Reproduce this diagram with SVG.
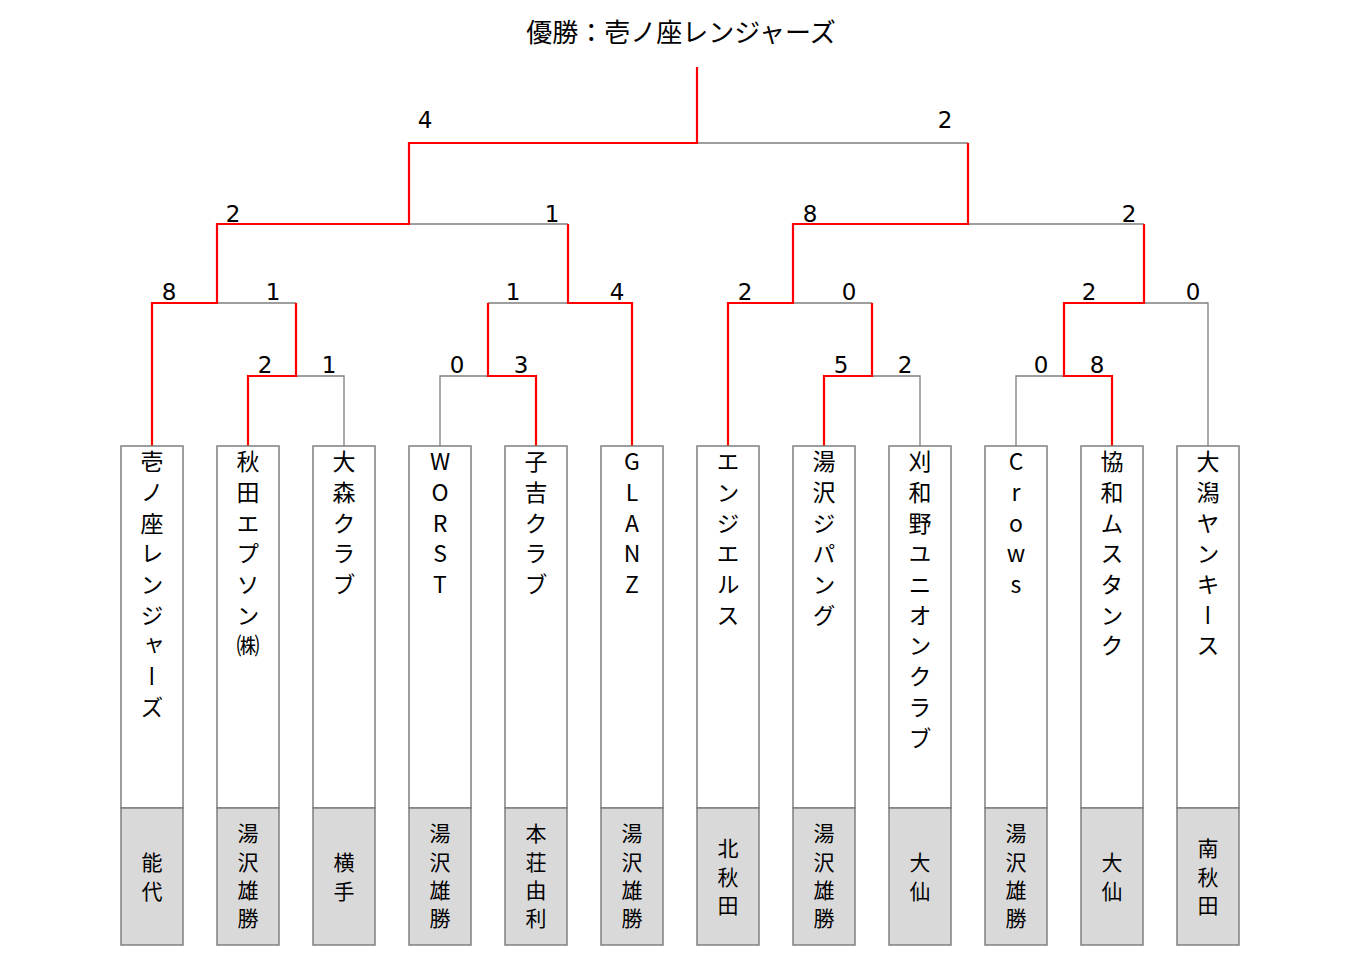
<svg xmlns="http://www.w3.org/2000/svg" width="1366" height="965" viewBox="0 0 1366 965">
<style>
.bg{fill:#ffffff}
.box{fill:#ffffff;stroke:#7f7f7f;stroke-width:1.5}
.pref{fill:#d9d9d9;stroke:#7f7f7f;stroke-width:1.5}
.g{fill:none;stroke:#7f7f7f;stroke-width:1.3}
.r{fill:none;stroke:#ff0000;stroke-width:2.2}
.title{font-family:"Noto Sans CJK JP","Noto Sans CJK SC",sans-serif;font-size:26px;fill:#000;text-anchor:middle}
.sc{font-family:"DejaVu Sans","Noto Sans",sans-serif;font-size:23px;fill:#000;text-anchor:middle}
.nm{font-family:"Noto Sans CJK JP","Noto Sans CJK SC",sans-serif;font-size:23px;fill:#000;writing-mode:vertical-rl;text-orientation:upright;letter-spacing:7.7px}
.pf{font-family:"Noto Sans CJK JP","Noto Sans CJK SC",sans-serif;font-size:21px;fill:#000;writing-mode:vertical-rl;text-orientation:upright;letter-spacing:7.3px}
</style>
<rect class="bg" x="0" y="0" width="1366" height="965"/>
<text class="title" x="681" y="42">優勝：壱ノ座レンジャーズ</text>

<g id="connectors">
<path class="g" d="M697,143 H968 M409,224 H568 M968,224 H1144 M217,303 H296 M488,303 H568 M793,303 H872 M1144,303 H1208 V446 M296,376 H344 V446 M488,376 H440 V446 M872,376 H920 V446 M1064,376 H1016 V446"/>
<path class="r" d="M697,67 V143 H409 V224 H217 V303 H152 V446"/>
<path class="r" d="M968,143 V224 H793 V303 H728 V446"/>
<path class="r" d="M568,224 V303 H632 V446"/>
<path class="r" d="M296,303 V376 H248 V446"/>
<path class="r" d="M488,303 V376 H536 V446"/>
<path class="r" d="M872,303 V376 H824 V446"/>
<path class="r" d="M1144,224 V303 H1064 V376 H1112 V446"/>
</g>

<g id="scores">
<text class="sc" x="425" y="128">4</text>
<text class="sc" x="945" y="128">2</text>
<text class="sc" x="233" y="222">2</text>
<text class="sc" x="552" y="222">1</text>
<text class="sc" x="810" y="222">8</text>
<text class="sc" x="1129" y="222">2</text>
<text class="sc" x="169" y="300">8</text>
<text class="sc" x="273" y="300">1</text>
<text class="sc" x="513" y="300">1</text>
<text class="sc" x="617" y="300">4</text>
<text class="sc" x="745" y="300">2</text>
<text class="sc" x="849" y="300">0</text>
<text class="sc" x="1089" y="300">2</text>
<text class="sc" x="1193" y="300">0</text>
<text class="sc" x="265" y="373">2</text>
<text class="sc" x="329" y="373">1</text>
<text class="sc" x="457" y="373">0</text>
<text class="sc" x="521" y="373">3</text>
<text class="sc" x="841" y="373">5</text>
<text class="sc" x="905" y="373">2</text>
<text class="sc" x="1041" y="373">0</text>
<text class="sc" x="1097" y="373">8</text>
</g>

<g id="team1"><rect class="box" x="121" y="446" width="62" height="362"/><rect class="pref" x="121" y="808" width="62" height="137"/><text class="nm" x="152" y="450">壱ノ座レンジャーズ</text><text class="pf" x="152" y="852">能代</text></g>
<g id="team2"><rect class="box" x="217" y="446" width="62" height="362"/><rect class="pref" x="217" y="808" width="62" height="137"/><text class="nm" x="248" y="450">秋田エプソン㈱</text><text class="pf" x="248" y="823">湯沢雄勝</text></g>
<g id="team3"><rect class="box" x="313" y="446" width="62" height="362"/><rect class="pref" x="313" y="808" width="62" height="137"/><text class="nm" x="344" y="450">大森クラブ</text><text class="pf" x="344" y="852">横手</text></g>
<g id="team4"><rect class="box" x="409" y="446" width="62" height="362"/><rect class="pref" x="409" y="808" width="62" height="137"/><text class="nm" x="440" y="450">WORST</text><text class="pf" x="440" y="823">湯沢雄勝</text></g>
<g id="team5"><rect class="box" x="505" y="446" width="62" height="362"/><rect class="pref" x="505" y="808" width="62" height="137"/><text class="nm" x="536" y="450">子吉クラブ</text><text class="pf" x="536" y="823">本荘由利</text></g>
<g id="team6"><rect class="box" x="601" y="446" width="62" height="362"/><rect class="pref" x="601" y="808" width="62" height="137"/><text class="nm" x="632" y="450">GLANZ</text><text class="pf" x="632" y="823">湯沢雄勝</text></g>
<g id="team7"><rect class="box" x="697" y="446" width="62" height="362"/><rect class="pref" x="697" y="808" width="62" height="137"/><text class="nm" x="728" y="450">エンジエルス</text><text class="pf" x="728" y="838">北秋田</text></g>
<g id="team8"><rect class="box" x="793" y="446" width="62" height="362"/><rect class="pref" x="793" y="808" width="62" height="137"/><text class="nm" x="824" y="450">湯沢ジパング</text><text class="pf" x="824" y="823">湯沢雄勝</text></g>
<g id="team9"><rect class="box" x="889" y="446" width="62" height="362"/><rect class="pref" x="889" y="808" width="62" height="137"/><text class="nm" x="920" y="450">刈和野ユニオンクラブ</text><text class="pf" x="920" y="852">大仙</text></g>
<g id="team10"><rect class="box" x="985" y="446" width="62" height="362"/><rect class="pref" x="985" y="808" width="62" height="137"/><text class="nm" x="1016" y="450">Crows</text><text class="pf" x="1016" y="823">湯沢雄勝</text></g>
<g id="team11"><rect class="box" x="1081" y="446" width="62" height="362"/><rect class="pref" x="1081" y="808" width="62" height="137"/><text class="nm" x="1112" y="450">協和ムスタンク</text><text class="pf" x="1112" y="852">大仙</text></g>
<g id="team12"><rect class="box" x="1177" y="446" width="62" height="362"/><rect class="pref" x="1177" y="808" width="62" height="137"/><text class="nm" x="1208" y="450">大潟ヤンキース</text><text class="pf" x="1208" y="838">南秋田</text></g>
</svg>
